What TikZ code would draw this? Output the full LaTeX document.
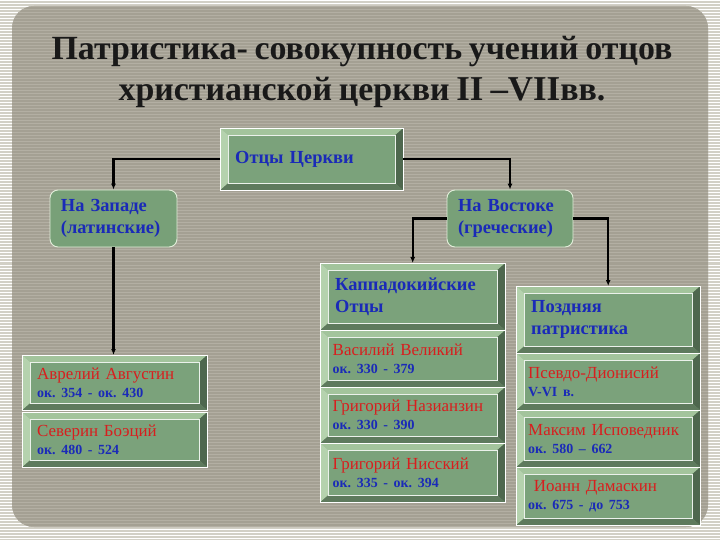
\documentclass[tikz,border=0pt]{standalone}
\usepackage{fontspec}
\setmainfont[WordSpace=0.8]{Liberation Serif}
\frenchspacing
\usetikzlibrary{calc,arrows.meta}
\definecolor{bgout}{HTML}{D2D0C6}
\definecolor{panel}{HTML}{A4A093}
\definecolor{stripe}{HTML}{B3AFA3}
\definecolor{face}{HTML}{7BA27B}
\definecolor{bevL}{HTML}{B5D2AE}
\definecolor{bevT}{HTML}{A3C49C}
\definecolor{bevR}{HTML}{4E674E}
\definecolor{bevB}{HTML}{5E7A5D}
\definecolor{tblue}{HTML}{1A2AB8}
\definecolor{tred}{HTML}{D81E1E}
\definecolor{rbox}{HTML}{78A078}
\definecolor{rline}{HTML}{E2EEDA}
\newcommand\bevel[1]{%
 \fill[bevT] (#1.north west) -- (#1.north east) -- ($(#1.north east)+(-8,7)$) -- ($(#1.north west)+(8,7)$) -- cycle;
 \fill[bevL] (#1.north west) -- ($(#1.north west)+(8,7)$) -- ($(#1.south west)+(8,-7)$) -- (#1.south west) -- cycle;
 \fill[bevR] (#1.north east) -- ($(#1.north east)+(-8,7)$) -- ($(#1.south east)+(-8,-7)$) -- (#1.south east) -- cycle;
 \fill[bevB] (#1.south west) -- ($(#1.south west)+(8,-7)$) -- ($(#1.south east)+(-8,-7)$) -- (#1.south east) -- cycle;
 \draw[white, line width=0.8bp] (#1.north west) rectangle (#1.south east);
 \draw[white!85!face, line width=0.8bp] ($(#1.north west)+(8,7)$) rectangle ($(#1.south east)+(-8,-7)$);
}
% name, x, y, w, h, textwidth, style, content
\newcommand\bbox[8]{%
 \node[bev, #7, anchor=north west, minimum width=#4bp, minimum height=#5bp, text width=#6bp] (#1) at (#2,#3) {#8};
 \bevel{#1}%
}
\newcommand\dt[1]{{\color{tblue}\bfseries\fontsize{14}{18}\selectfont #1}}
\tikzset{
 bev/.style={fill=face, inner sep=0pt, align=left},
 hdf/.style={font=\bfseries\fontsize{18.5}{22}\selectfont, text=tblue},
 prs/.style={font=\fontsize{17}{18}\selectfont, text=tred},
 rnd/.style={fill=rbox, draw=rline, line width=0.9bp, rounded corners=8bp, inner sep=0pt, align=left},
 conn/.style={line width=2.2bp, black, -{Latex[length=6bp,width=5bp]}},
}
\begin{document}
\begin{tikzpicture}[x=1bp,y=-1bp]
\useasboundingbox (0,0) rectangle (720,540);
\fill[bgout] (0,0) rectangle (720,540);
\foreach \y in {1,4,...,540} \draw[white, line width=1bp] (0,\y) -- (720,\y);
\begin{scope}
\clip[rounded corners=22bp] (12,6) rectangle (708,527);
\fill[panel] (0,0) rectangle (720,540);
\foreach \y in {1,4,...,540} \draw[stripe, line width=1bp] (0,\y) -- (720,\y);
\end{scope}

\node[font=\bfseries\fontsize{34}{41}\selectfont, align=center, text=black!90] (title) at (362,72)
 {Патристика- совокупность учений отцов\\христианской церкви {\fontsize{35}{41}\selectfont II –VII}вв.};

\bbox{otcy}{220}{128}{183}{62}{153}{hdf}{Отцы Церкви}

\node[rnd, hdf, minimum width=127bp, minimum height=57bp, text width=105bp] (zapad) at (113.5,218.5)
 {На Западе\\(латинские)};
\node[rnd, hdf, minimum width=126bp, minimum height=57bp, text width=104bp] (vostok) at (510,218.5)
 {На Востоке\\(греческие)};

\bbox{avg}{22}{355}{185}{55}{155}{prs}{Аврелий Августин\\\dt{ок. 354 - ок. 430}}
\bbox{boe}{22}{412}{185}{55}{155}{prs}{Северин Боэций\\\dt{ок. 480 - 524}}

\bbox{kapp}{320}{263}{185}{67}{155}{hdf}{Каппадокийские\\Отцы}
\bbox{vas}{320}{330}{185}{57}{160}{prs}{Василий Великий\\\dt{ок. 330 - 379}}
\bbox{naz}{320}{387}{185}{56}{160}{prs}{Григорий Назианзин\\\dt{ок. 330 - 390}}
\bbox{nis}{320}{443}{185}{59}{160}{prs}{Григорий Нисский\\\dt{ок. 335 - ок. 394}}

\bbox{late}{516}{286}{184}{67}{154}{hdf}{Поздняя\\патристика}
\bbox{psev}{516}{353}{184}{57}{160}{prs}{Псевдо-Дионисий\\\dt{V-VI в.}}
\bbox{max}{516}{410}{184}{57}{160}{prs}{Максим Исповедник\\\dt{ок. 580 – 662}}
\bbox{ioan}{516}{467}{184}{58}{160}{prs}{\ Иоанн Дамаскин\\\dt{ок. 675 - до 753}}

\draw[conn] (otcy.west) -| (zapad.north);
\draw[conn] (otcy.east) -| (vostok.north);
\draw[conn] (zapad.south) -- (zapad.south |- avg.north);
\draw[conn] (vostok.west) -| (kapp.north);
\draw[conn] (vostok.east) -| (late.north);
\end{tikzpicture}
\end{document}
